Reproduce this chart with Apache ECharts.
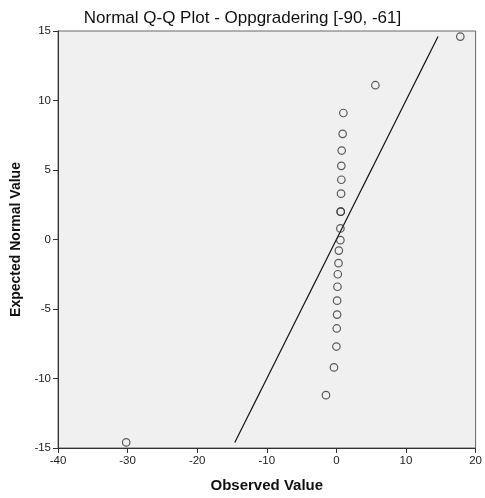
<!DOCTYPE html>
<html>
<head>
<meta charset="utf-8">
<script src="https://cdn.jsdelivr.net/npm/echarts@6/dist/echarts.min.js"></script>
<style>
  html, body { margin: 0; padding: 0; background: #ffffff; }
  #chart { width: 485px; height: 498px; }
</style>
</head>
<body>
<div id="chart"></div>
<script>
// Observed values and their expected normal quantiles (sorted by rank)
const observedValues = [-30.2, -1.5, -0.35, 0.0, 0.05, 0.1, 0.1, 0.15, 0.2, 0.3, 0.35, 0.57, 0.57, 0.62, 0.62, 0.67, 0.71, 0.71, 0.76, 0.9, 1.0, 5.6, 17.8];
const expectedNormal = [-14.6, -11.2, -9.2, -7.7, -6.4, -5.4, -4.4, -3.4, -2.5, -1.7, -0.8, -0.05, 0.8, 2.0, 2.0, 3.3, 4.3, 5.3, 6.4, 7.6, 9.1, 11.1, 14.6];

// Reference line y = x, between these end values
const referenceEnds = [-14.6, 14.6];

const xTicks = { min: -40, max: 20, interval: 10 };
const yTicks = { min: -15, max: 15, interval: 5 };

const points = observedValues.map((v, i) => [v, expectedNormal[i]]);
const refLine = referenceEnds.map(v => [v, v]);

const fontFamily = 'Liberation Sans, Arial, sans-serif';
const chart = echarts.init(document.getElementById('chart'), null, { renderer: 'canvas' });

chart.setOption({
  animation: false,
  backgroundColor: '#ffffff',
  title: {
    text: 'Normal Q-Q Plot - Oppgradering [-90, -61]',
    left: 'center',
    top: 10,
    padding: 0,
    textStyle: { fontFamily, fontSize: 17, fontWeight: 'normal', color: '#111' }
  },
  grid: {
    left: 58, right: 7, top: 31, bottom: 46,
    show: true,
    backgroundColor: '#f0f0f0',
    borderColor: '#666',
    borderWidth: 1
  },
  xAxis: {
    type: 'value',
    min: xTicks.min, max: xTicks.max, interval: xTicks.interval,
    name: 'Observed Value',
    nameLocation: 'middle',
    nameGap: 30,
    nameTextStyle: { fontFamily, fontSize: 15, fontWeight: 'bold', color: '#111' },
    axisLine: { show: true, onZero: false, lineStyle: { color: '#333', width: 1 } },
    axisTick: { show: true, length: 5, lineStyle: { color: '#333' } },
    axisLabel: { margin: 7, fontFamily, fontSize: 11.5, color: '#222' },
    splitLine: { show: false }
  },
  yAxis: {
    type: 'value',
    min: yTicks.min, max: yTicks.max, interval: yTicks.interval,
    name: 'Expected Normal Value',
    nameLocation: 'middle',
    nameGap: 30,
    nameTextStyle: { fontFamily, fontSize: 14, fontWeight: 'bold', color: '#111' },
    axisLine: { show: true, onZero: false, lineStyle: { color: '#333', width: 1 } },
    axisTick: { show: true, length: 5, lineStyle: { color: '#333' } },
    axisLabel: { margin: 7, fontFamily, fontSize: 11.5, color: '#222' },
    splitLine: { show: false }
  },
  series: [
    {
      type: 'line',
      data: refLine,
      symbol: 'none',
      lineStyle: { color: '#111', width: 1.2 },
      silent: true,
      z: 2
    },
    {
      type: 'scatter',
      data: points,
      symbol: 'circle',
      symbolSize: 7.5,
      itemStyle: { color: 'rgba(0,0,0,0)', borderColor: '#333', borderWidth: 1.2 },
      z: 3
    }
  ]
});
</script>
</body>
</html>
